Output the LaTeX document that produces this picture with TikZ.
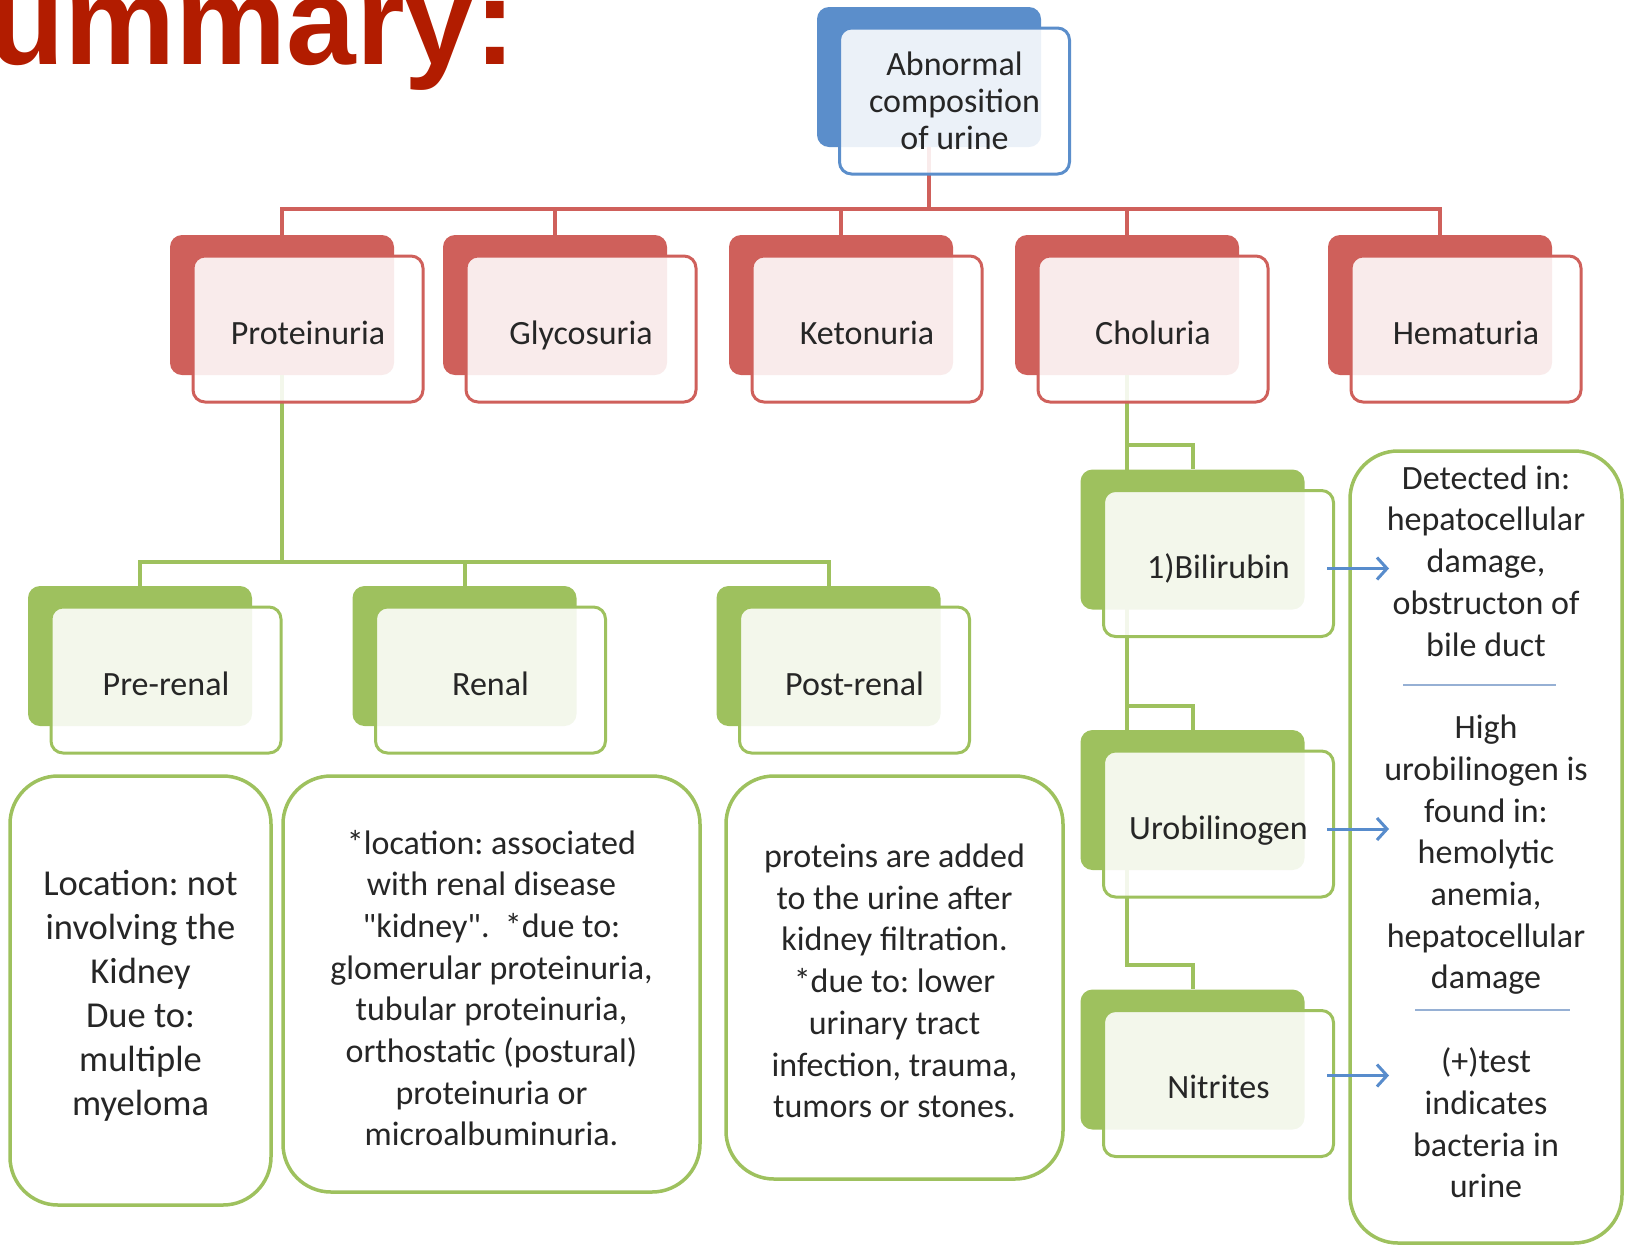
\documentclass[tikz,border=0pt]{standalone}
\usepackage{fontspec}
\setmainfont{Carlito}
\newfontfamily\headfont{Liberation Sans}
\definecolor{smred}{RGB}{207,96,91}
\definecolor{smgreen}{RGB}{158,193,94}
\definecolor{smblue}{RGB}{91,142,203}
\definecolor{smarrow}{RGB}{88,140,204}
\definecolor{smsep}{RGB}{150,176,212}
\definecolor{smtitle}{RGB}{178,28,0}
\definecolor{smtext}{RGB}{38,38,38}
\usetikzlibrary{arrows.meta,positioning,calc}

\begin{document}
\frenchspacing
\begin{tikzpicture}[x=1pt, y=-1pt,
  backbox/.style={rounded corners=12pt, minimum width=224pt, minimum height=140pt, inner sep=0pt},
  frontbox/.style={draw, line width=3pt, rounded corners=12pt, fill=white, fill opacity=0.88, text opacity=1, minimum width=230pt, minimum height=146pt, inner sep=0pt, align=center, text height=32pt, text depth=2pt, text=smtext, font=\fontsize{34}{37}\selectfont},
  notebox/.style={draw=smgreen, line width=3.5pt, rounded corners=48pt, fill=white, inner sep=0pt},
  notetext/.style={align=center, text=smtext, inner sep=0pt, font=\fontsize{34}{41.7}\selectfont},
  redline/.style={draw=smred, line width=4pt},
  greenline/.style={draw=smgreen, line width=4pt},
  bluearrow/.style={draw=smarrow, line width=3pt, -{Straight Barb[length=10pt, width=22pt, line width=3pt]}},
  sepline/.style={draw=smsep, line width=2.5pt}]
  \useasboundingbox (0,0) rectangle (1633,1248);
  \clip (0,0) rectangle (1633,1248);

  %% Title (cut off at the page edge)
  \node[anchor=base west, inner sep=0pt, text=smtitle, font=\headfont\bfseries\fontsize{125}{125}\selectfont] (title) at (-12,64) {ummary:};

  %% Back plates
  \node[backbox, fill=smblue] (rootB) at (929,77) {};
  \node[backbox, fill=smred] (protB) at (282,305) {};
  \node[backbox, fill=smred] (glyB) at (555,305) {};
  \node[backbox, fill=smred] (ketB) at (841,305) {};
  \node[backbox, fill=smred] (cholB) at (1127,305) {};
  \node[backbox, fill=smred] (hemB) at (1440,305) {};
  \node[backbox, fill=smgreen] (preB) at (140,656) {};
  \node[backbox, fill=smgreen] (renB) at (464.5,656) {};
  \node[backbox, fill=smgreen] (postB) at (828.5,656) {};
  \node[backbox, fill=smgreen] (bilB) at (1192.5,539.5) {};
  \node[backbox, fill=smgreen] (uroB) at (1192.5,800) {};
  \node[backbox, fill=smgreen] (nitB) at (1192.5,1059.5) {};

  %% Connectors
  \coordinate (redbus) at ([yshift=26pt]protB.north);
  \foreach \c in {protB,glyB,ketB,cholB,hemB}
    \draw[redline] (rootB.south) -- (rootB.south |- redbus) -| (\c.north);
  \coordinate (greenbus) at ([yshift=24pt]preB.north);
  \foreach \c in {preB,renB,postB}
    \draw[greenline] (protB.south) -- (protB.south |- greenbus) -| (\c.north);
  \foreach \c in {bilB,uroB,nitB} {
    \coordinate (elbow) at ([yshift=24pt]\c.north);
    \draw[greenline] (cholB.south) -- (cholB.south |- elbow) -| (\c.north);
  }

  %% Front boxes
  \node[frontbox, draw=smblue, text height=, text depth=] (root) at (954.5,101) {Abnormal\\composition\\of urine};
  \node[frontbox, draw=smred] (prot) at (308,329) {Proteinuria};
  \node[frontbox, draw=smred] (gly) at (581,329) {Glycosuria};
  \node[frontbox, draw=smred] (ket) at (867,329) {Ketonuria};
  \node[frontbox, draw=smred] (chol) at (1153,329) {Choluria};
  \node[frontbox, draw=smred] (hem) at (1466,329) {Hematuria};
  \node[frontbox, draw=smgreen] (pre) at (166,680) {Pre-renal};
  \node[frontbox, draw=smgreen] (ren) at (490.5,680) {Renal};
  \node[frontbox, draw=smgreen] (post) at (854.5,680) {Post-renal};
  \node[frontbox, draw=smgreen] (bil) at (1218.5,563.5) {1)Bilirubin};
  \node[frontbox, draw=smgreen] (uro) at (1218.5,824) {Urobilinogen};
  \node[frontbox, draw=smgreen] (nit) at (1218.5,1083.5) {Nitrites};

  %% Notes under Proteinuria
  \node[notebox, minimum width=261pt, minimum height=429pt] (preNote) at (140.5,990.5) {};
  \node[notetext, font=\fontsize{36.5}{44}\selectfont] (preText) at (140.5,996) {Location: not\\involving the\\Kidney\\Due to:\\multiple\\myeloma};
  \node[notebox, minimum width=417pt, minimum height=416pt] (renNote) at (491.5,984) {};
  \node[notetext] (renText) at (491.5,988) {*location: associated\\with renal disease\\\textquotedbl kidney\textquotedbl.\ \ *due to:\\glomerular proteinuria,\\tubular proteinuria,\\orthostatic (postural)\\proteinuria or\\microalbuminuria.};
  \node[notebox, minimum width=337pt, minimum height=403pt] (postNote) at (894.5,977.5) {};
  \node[notetext] (postText) at (894.5,981) {proteins are added\\to the urine after\\kidney filtration.\\*due to: lower\\urinary tract\\infection, trauma,\\tumors or stones.};

  %% Notes beside Choluria
  \node[notebox, minimum width=272pt, minimum height=792pt] (detNote) at (1486,847) {};
  \node[notetext] (det1) at (1486,561) {Detected in:\\hepatocellular\\damage,\\obstructon of\\bile duct};
  \node[notetext] (det2) at (1486,855) {High\\urobilinogen is\\found in:\\hemolytic\\anemia,\\hepatocellular\\damage};
  \node[notetext] (det3) at (1486,1123) {(+)test\\indicates\\bacteria in\\urine};
  \draw[sepline] (1403,685) -- (1556,685);
  \draw[sepline] (1415,1010) -- (1570,1010);

  %% Arrows to the notes
  \draw[bluearrow] ([shift={(-8,5)}]bil.east) -- ++(62,0);
  \draw[bluearrow] ([shift={(-8,5)}]uro.east) -- ++(62,0);
  \draw[bluearrow] ([shift={(-8,-8)}]nit.east) -- ++(62,0);
\end{tikzpicture}
\end{document}
